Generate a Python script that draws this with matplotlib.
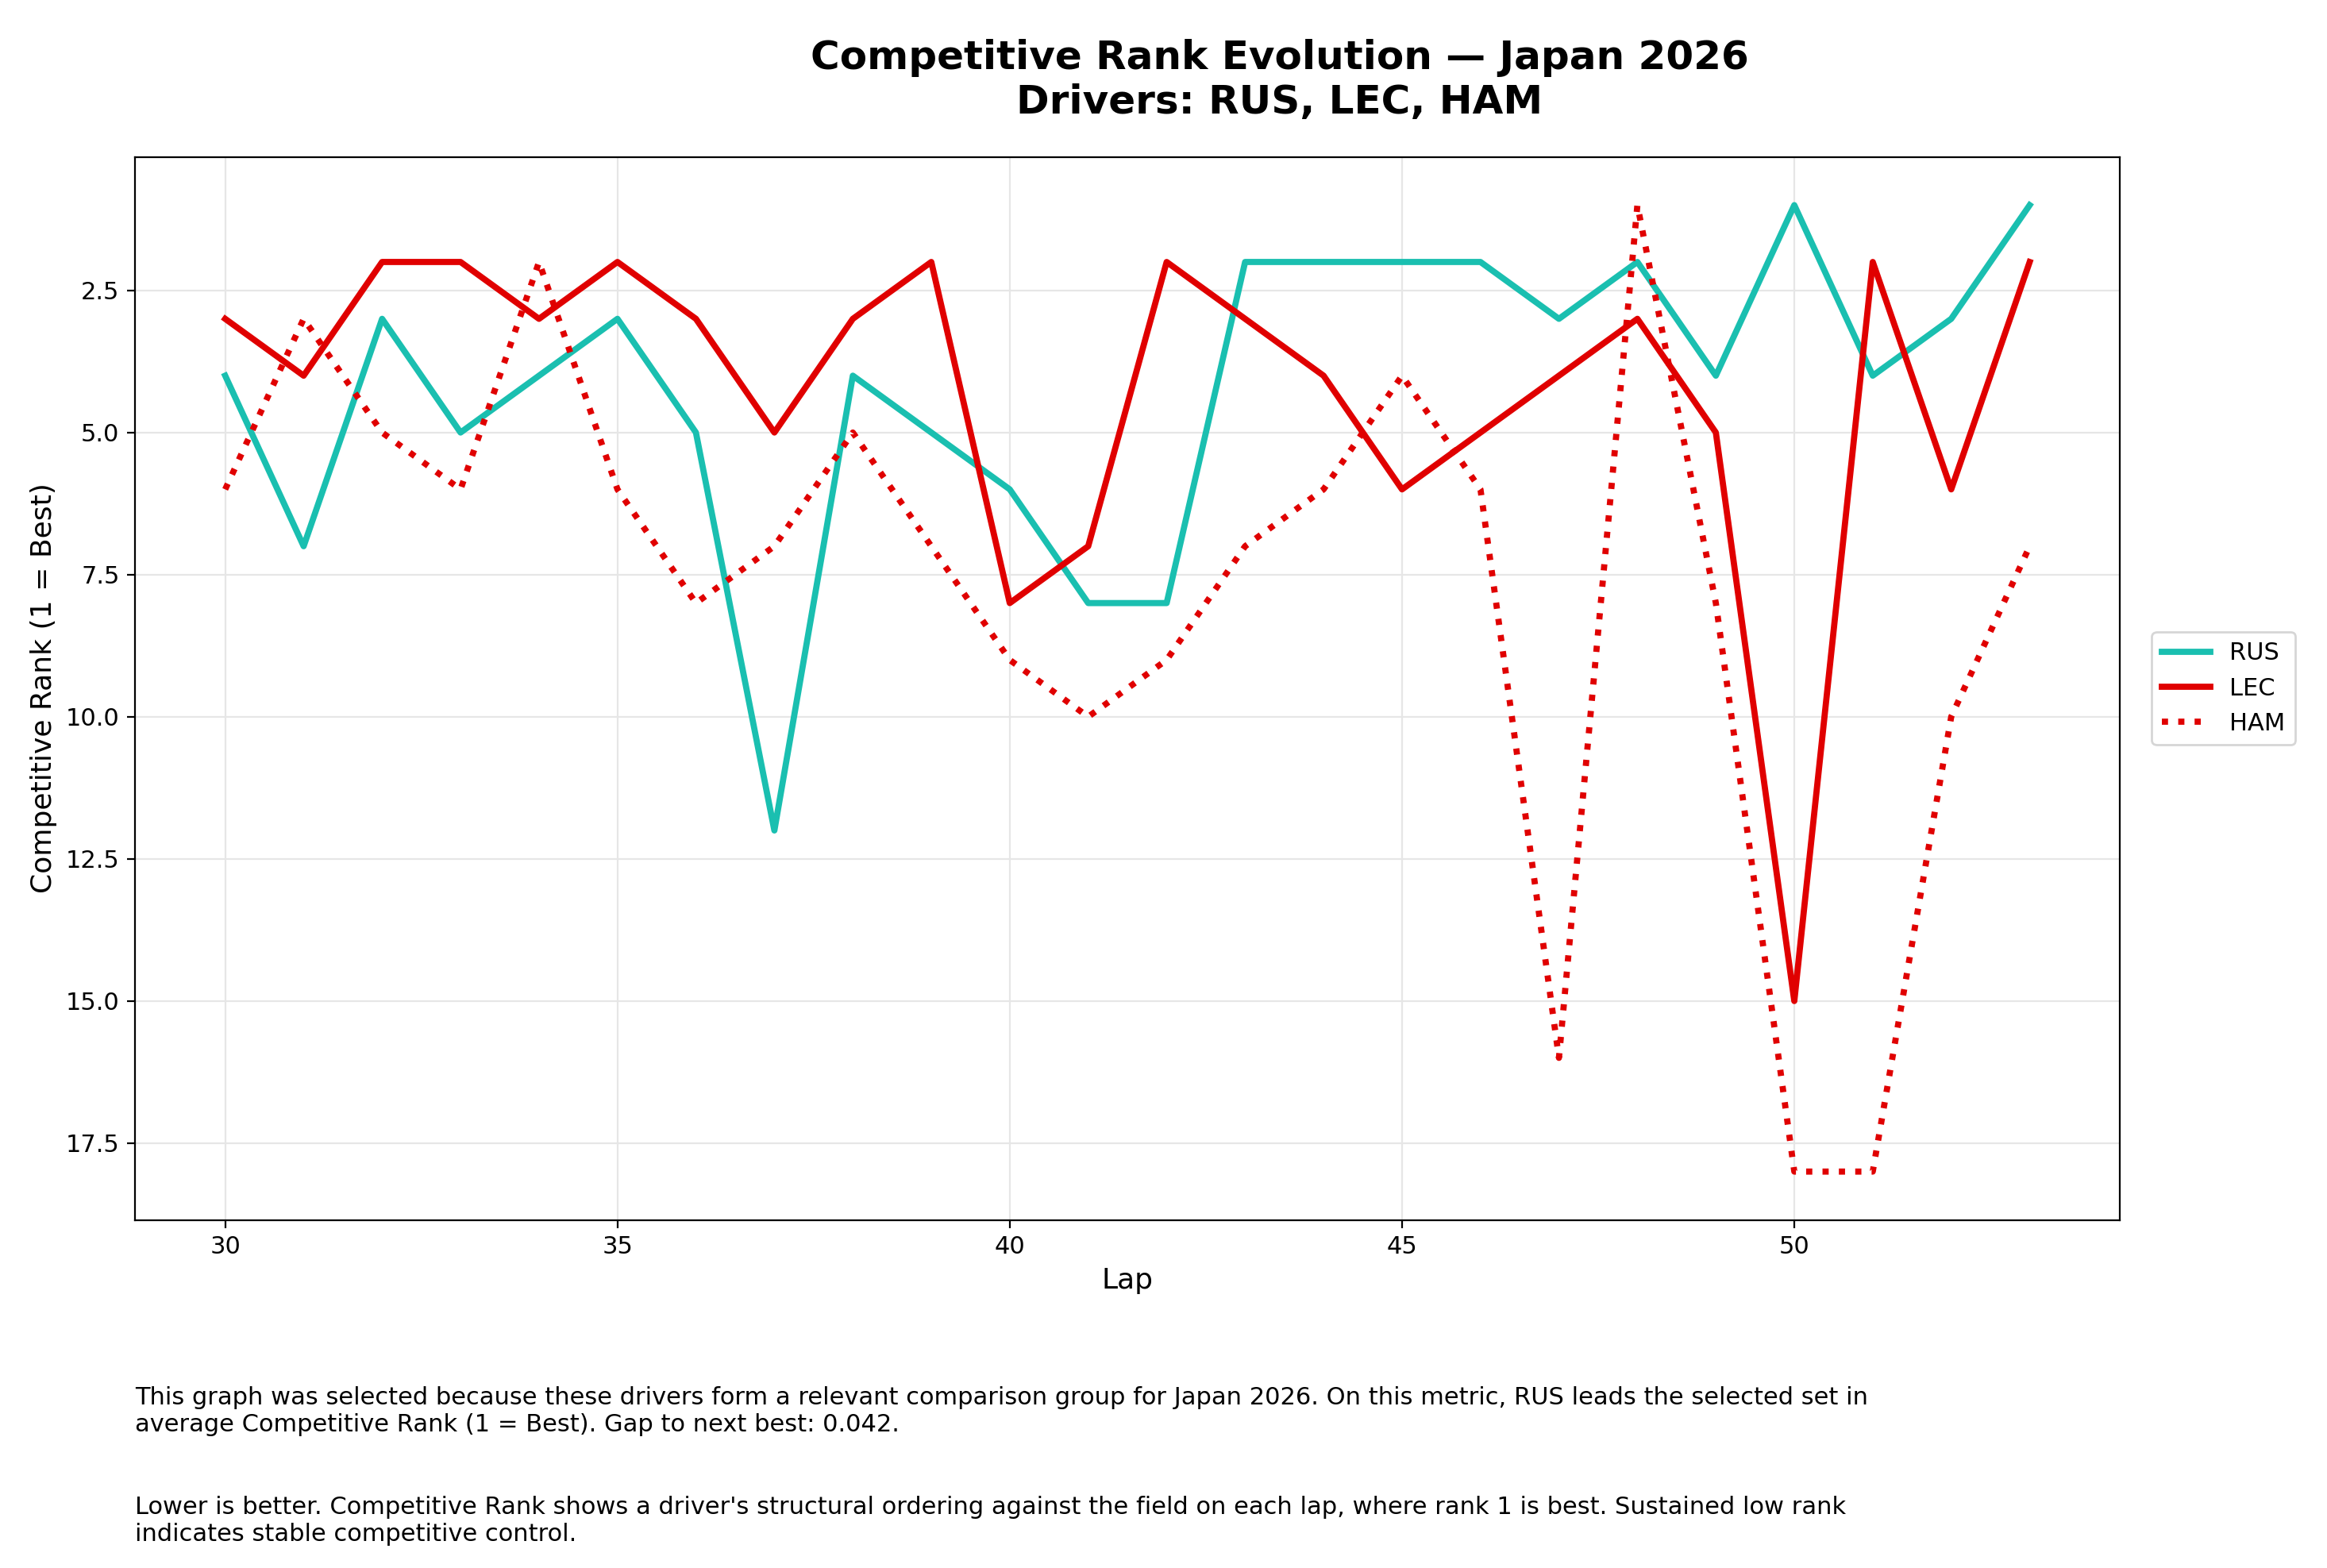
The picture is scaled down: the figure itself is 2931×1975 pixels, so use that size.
import matplotlib
matplotlib.use("Agg")
import matplotlib.pyplot as plt

laps = list(range(30, 54))
rus = [4,7,3,5,4,3,5,12,4,5,6,8,8,2,2,2,2,3,2,4,1,4,3,1]
lec = [3,4,2,2,3,2,3,5,3,2,8,7,2,3,4,6,5,4,3,5,15,2,6,2]
ham = [6,3,5,6,2,6,8,7,5,7,9,10,9,7,6,4,6,16,1,8,18,18,10,7]

fig = plt.figure(figsize=(14.655, 9.875), dpi=200)
ax = fig.add_axes([0.058, 0.222, 0.853, 0.678])
ax.plot(laps, rus, color="#1abfb0", lw=2.8, label="RUS")
ax.plot(laps, lec, color="#e00000", lw=2.8, label="LEC")
ax.plot(laps, ham, color="#e00000", lw=2.8, ls=":", label="HAM")
ax.invert_yaxis()
ax.grid(True, color="#e6e6e6", lw=0.8)
ax.set_xlabel("Lap", fontsize=13)
ax.set_ylabel("Competitive Rank (1 = Best)", fontsize=13)
ax.tick_params(labelsize=11)
ax.legend(loc="center left", bbox_to_anchor=(1.01, 0.5), fontsize=11)
fig.text(0.55, 0.975, "Competitive Rank Evolution — Japan 2026\nDrivers: RUS, LEC, HAM",
         ha="center", va="top", fontsize=18, fontweight="bold")
fig.text(0.058, 0.1, "This graph was selected because these drivers form a relevant comparison group for Japan 2026. On this metric, RUS leads the selected set in\naverage Competitive Rank (1 = Best). Gap to next best: 0.042.",
         ha="left", va="center", fontsize=11)
fig.text(0.058, 0.03, "Lower is better. Competitive Rank shows a driver's structural ordering against the field on each lap, where rank 1 is best. Sustained low rank\nindicates stable competitive control.",
         ha="left", va="center", fontsize=11)
fig.savefig("out.png", dpi=200)
